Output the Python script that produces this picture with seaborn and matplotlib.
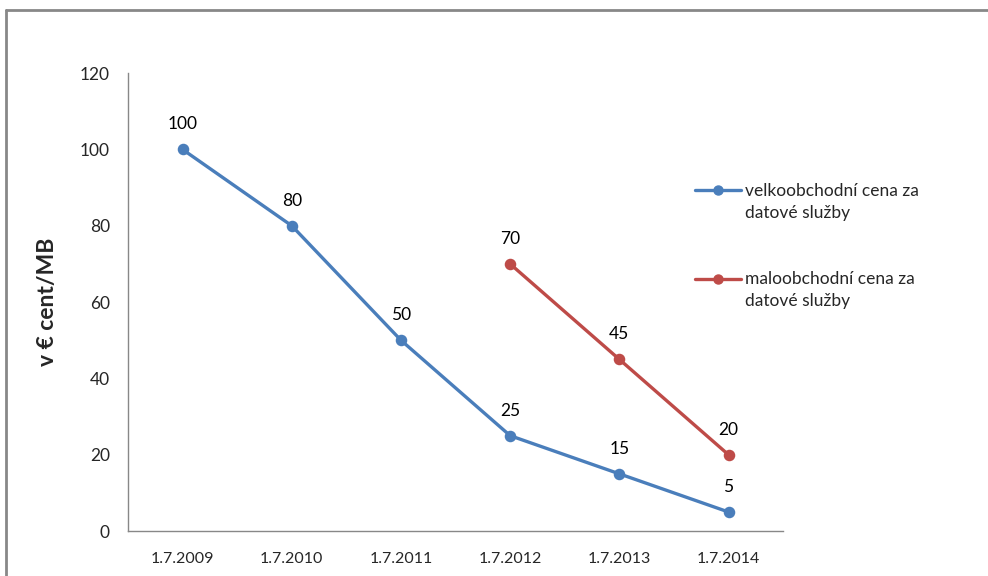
import pandas as pd
import matplotlib.pyplot as plt
import seaborn as sns
from matplotlib.lines import Line2D
from matplotlib.ticker import FixedLocator
from matplotlib.legend_handler import HandlerLine2D

dates = ['1.7.2009', '1.7.2010', '1.7.2011', '1.7.2012', '1.7.2013', '1.7.2014']
wholesale = [100, 80, 50, 25, 15, 5]
retail = [None, None, None, 70, 45, 20]
series_names = ['velkoobchodní cena za\ndatové služby', 'maloobchodní cena za\ndatové služby']
colors = ['#4A7EBB', '#BE4B48']

df = pd.concat([
    pd.DataFrame({'date': dates, 'value': wholesale, 'series': series_names[0]}),
    pd.DataFrame({'date': dates, 'value': retail, 'series': series_names[1]}),
]).dropna()


class FirstLineHandler(HandlerLine2D):
    """Put the legend marker next to the first text line, like Excel does."""
    def create_artists(self, legend, orig_handle, xdescent, ydescent, width, height, fontsize, trans):
        artists = super().create_artists(legend, orig_handle, xdescent, ydescent, width, height, fontsize, trans)
        for a in artists:
            a.set_ydata([y + 0.7 * fontsize for y in a.get_ydata()])
        return artists


sns.set_style('white')
plt.rcParams['font.family'] = ['Lato', 'DejaVu Sans']

fig = plt.figure(figsize=(9.88, 5.76), dpi=100)
ax = fig.add_axes([0.1296, 0.078, 0.663, 0.795])

sns.pointplot(data=df, x='date', y='value', hue='series', order=dates,
              palette=colors, errorbar=None, markers='o', ax=ax,
              linewidth=2.4, markersize=6.5, legend=False)

# data labels
for vals in [wholesale, retail]:
    for i, v in enumerate(vals):
        if v is None:
            continue
        ax.annotate(str(v), (i, v), xytext=(0, 18), textcoords='offset points',
                    ha='center', va='center', fontsize=12.5, color='black')

ax.set_ylim(0, 120)
ax.set_yticks(range(0, 121, 20))
ax.set_xlim(-0.5, len(dates) - 0.5)
ax.set_xlabel('')
ax.set_ylabel('v € cent/MB', fontsize=16.5, fontweight='bold', labelpad=16)

for s in ['top', 'right']:
    ax.spines[s].set_visible(False)
for s in ['left', 'bottom']:
    ax.spines[s].set_color('#888888')
    ax.spines[s].set_linewidth(1)

ax.tick_params(axis='y', length=4, color='#888888', direction='out', labelsize=12.5, pad=9)
ax.tick_params(axis='x', which='major', length=0, labelsize=11.5, pad=15)
ax.xaxis.set_minor_locator(FixedLocator([i - 0.5 for i in range(len(dates) + 1)]))
ax.tick_params(axis='x', which='minor', length=5, color='#888888', direction='out')

handles = [Line2D([], [], color=c, marker='o', linewidth=2.4, markersize=6.5) for c in colors]
leg = fig.legend(handles, series_names, loc='upper left', bbox_to_anchor=(0.688, 0.709),
                 frameon=False, fontsize=12.5, handlelength=2.6, handletextpad=0.25,
                 labelspacing=2.9, handler_map={Line2D: FirstLineHandler()})
for t in leg.get_texts():
    t.set_linespacing(1.45)

# outer chart border (only left and top edges visible)
fig.add_artist(Line2D([0.006, 0.006], [0, 0.983], color='#888888', linewidth=2, transform=fig.transFigure))
fig.add_artist(Line2D([0.006, 1], [0.983, 0.983], color='#888888', linewidth=2, transform=fig.transFigure))

fig.savefig('out.png', dpi=100)
